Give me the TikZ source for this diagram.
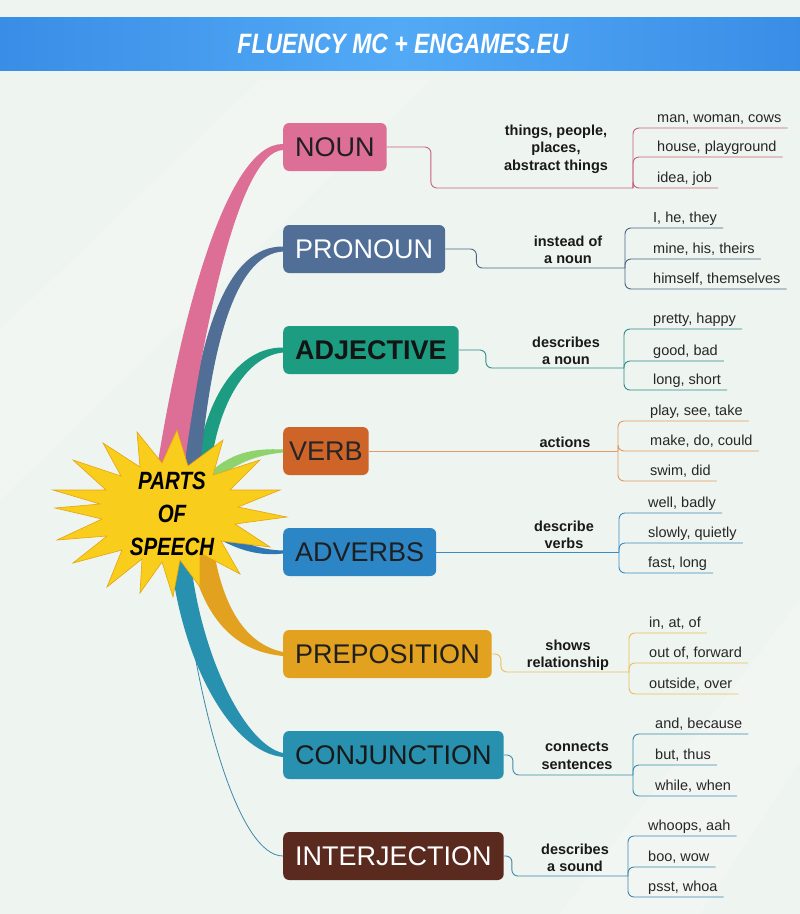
\documentclass[tikz,border=0pt]{standalone}
\usepackage{fontspec}
\setmainfont{Liberation Sans}
\newfontfamily\starfont[FakeStretch=0.82]{Liberation Sans}
\usetikzlibrary{calc}

\definecolor{bgcol}{HTML}{EEF4EF}
\definecolor{headlight}{HTML}{52AAF6}
\definecolor{headdark}{HTML}{3A8DE6}
\definecolor{staryellow}{HTML}{F9CD1B}
\definecolor{starorange}{HTML}{E6A312}
\definecolor{nouncol}{HTML}{DD6E95}
\definecolor{proncol}{HTML}{506E96}
\definecolor{adjcol}{HTML}{1C9D81}
\definecolor{verbcol}{HTML}{CF6429}
\definecolor{advcol}{HTML}{2C86C6}
\definecolor{prepcol}{HTML}{E2A11E}
\definecolor{conjcol}{HTML}{2891AF}
\definecolor{interjcol}{HTML}{5B2A1E}
\definecolor{verbrib}{HTML}{8ED36C}
\definecolor{advrib}{HTML}{2E77B5}
\definecolor{nounline}{HTML}{C8607A}
\definecolor{pronline}{HTML}{4A6585}
\definecolor{adjline}{HTML}{2E8C8A}
\definecolor{verbline}{HTML}{E39A66}
\definecolor{advline}{HTML}{3C8BC0}
\definecolor{prepline}{HTML}{EDBE5A}
\definecolor{conjline}{HTML}{3D8CAA}
\definecolor{interjline}{HTML}{3D88AA}

\begin{document}
\begin{tikzpicture}[x=1pt,y=-1pt,
	wordbox/.style={rounded corners=6pt,minimum height=48pt,inner xsep=12pt,inner ysep=0pt,
		anchor=west,font=\fontsize{27}{27}\selectfont},
	note/.style={align=center,inner sep=0pt,font=\fontsize{14.5}{17.5}\selectfont\bfseries,text=black!90},
	leaf/.style={anchor=south west,inner xsep=6pt,inner ysep=0pt,text depth=5pt,
		font=\fontsize{14.5}{17}\selectfont,text=black!85},
	link/.style={line width=0.9pt,rounded corners=6pt}]

	% background and title band
	\fill[bgcol] (0,0) rectangle (800,914);
	\fill[white,opacity=0.25] (0,330) -- (260,80) -- (430,80) -- (0,500) -- cycle;
	\fill[white,opacity=0.25] (560,914) -- (800,600) -- (800,760) -- (700,914) -- cycle;
	\shade[left color=headdark,right color=headdark,middle color=headlight] (0,17) rectangle (800,70);
	\node (title) at (403,44) {\starfont\fontsize{28}{28}\selectfont\bfseries\itshape\color{white}FLUENCY MC + ENGAMES.EU};

	% parts of speech
	\node[wordbox,fill=nouncol,text=black!88] (noun) at (283,147) {NOUN};
	\node[wordbox,fill=proncol,text=white] (pronoun) at (283,249) {PRONOUN};
	\node[wordbox,fill=adjcol,text=black!92,font=\fontsize{27}{27}\selectfont\bfseries] (adjective) at (283,350) {ADJECTIVE};
	\node[wordbox,fill=verbcol,text=black!85,inner xsep=6pt] (verb) at (283,451) {VERB};
	\node[wordbox,fill=advcol,text=black!88] (adverbs) at (283,552) {ADVERBS};
	\node[wordbox,fill=prepcol,text=black!88] (preposition) at (283,654) {PREPOSITION};
	\node[wordbox,fill=conjcol,text=black!90] (conjunction) at (283,755) {CONJUNCTION};
	\node[wordbox,fill=interjcol,text=white] (interjection) at (283,856) {INTERJECTION};

	% branches from the star
	\draw[interjline,line width=0.8pt] (182,570) .. controls (200,720) and (240,856) .. (interjection.west);
	\fill[conjcol] (170,555) .. controls (182,665) and (232,752) .. ([yshift=-2pt]conjunction.west)
		-- ([yshift=2pt]conjunction.west) .. controls (245,745) and (200,655) .. (190,555) -- cycle;
	\fill[prepcol] (190,555) .. controls (205,625) and (240,652) .. ([yshift=-2pt]preposition.west)
		-- ([yshift=2pt]preposition.west) .. controls (250,645) and (225,615) .. (214,552) -- cycle;
	\fill[advrib] (218,528) .. controls (243,544) and (262,550) .. ([yshift=1.5pt]adverbs.west)
		-- ([yshift=-1.5pt]adverbs.west) .. controls (262,556) and (240,552) .. (214,536) -- cycle;
	\fill[verbrib] (205,478) .. controls (228,452) and (255,448) .. ([yshift=1.5pt]verb.west)
		-- ([yshift=-1.5pt]verb.west) .. controls (258,455) and (235,462) .. (212,484) -- cycle;
	\fill[adjcol] (196,470) .. controls (205,395) and (240,347) .. ([yshift=2.5pt]adjective.west)
		-- ([yshift=-2.5pt]adjective.west) .. controls (248,356) and (218,400) .. (210,472) -- cycle;
	\fill[proncol] (184,470) .. controls (198,330) and (228,246) .. ([yshift=2.5pt]pronoun.west)
		-- ([yshift=-2.5pt]pronoun.west) .. controls (238,254) and (212,335) .. (200,470) -- cycle;
	\fill[nouncol] (156,475) .. controls (178,330) and (225,143) .. ([yshift=3pt]noun.west)
		-- ([yshift=-3pt]noun.west) .. controls (238,152) and (202,335) .. (183,475) -- cycle;

	% the star
	\begin{scope}[shift={(170,512)}]
		\filldraw[fill=staryellow,draw=starorange,line width=0.6pt] plot coordinates {
			(-117,-22) (-64,-22) (-97,-52) (-49,-36) (-67,-69) (-30,-45) (-33,-80) (-8,-49)
			(7,-82) (18,-46) (53,-72) (43,-37) (90,-52) (60,-22) (110,-22) (68,-5)
			(117,5) (65,12) (100,35) (51,29) (70,62) (30,41) (30,75) (10,48)
			(3,85) (-8,50) (-30,81) (-28,47) (-63,75) (-48,38) (-97,51) (-63,24)
			(-113,28) (-68,7) (-115,-4) (-70,-8)} -- cycle;
	\end{scope}
	\node[align=center,inner sep=0pt,font=\starfont\fontsize{25}{33}\selectfont\bfseries\itshape] (speech) at (172,514)
		{PARTS\\OF\\SPEECH};

	% noun
	\coordinate (nj) at (633,188);
	\node[note] (nnote) at (556,149) {things, people,\\places,\\abstract things};
	\node[leaf] (n1) at (651,128) {man, woman, cows};
	\node[leaf] (n2) at (651,157) {house, playground};
	\node[leaf] (n3) at (651,188) {idea, job};
	\draw[link,nounline] (noun.east) -- ++(44,0) |- (nj);
	\foreach \l in {n1,n2,n3} \draw[link,nounline] (nj) |- (\l.south west) -- (\l.south east);

	% pronoun
	\coordinate (pj) at (625,268);
	\node[note] (pnote) at (568,250) {instead of\\a noun};
	\node[leaf] (p1) at (647,228) {I, he, they};
	\node[leaf] (p2) at (647,259) {mine, his, theirs};
	\node[leaf] (p3) at (647,289) {himself, themselves};
	\draw[link,pronline] (pronoun.east) -- ++(31,0) |- (pj);
	\foreach \l in {p1,p2,p3} \draw[link,pronline] (pj) |- (\l.south west) -- (\l.south east);

	% adjective
	\coordinate (aj) at (624,368);
	\node[note] (anote) at (566,351) {describes\\a noun};
	\node[leaf] (a1) at (647,329) {pretty, happy};
	\node[leaf] (a2) at (647,361) {good, bad};
	\node[leaf] (a3) at (647,390) {long, short};
	\draw[link,adjline] (adjective.east) -- ++(27,0) |- (aj);
	\foreach \l in {a1,a2,a3} \draw[link,adjline] (aj) |- (\l.south west) -- (\l.south east);

	% verb
	\coordinate (vj) at (618,451);
	\node[note] (vnote) at (565,442) {actions};
	\node[leaf] (v1) at (644,421) {play, see, take};
	\node[leaf] (v2) at (644,451) {make, do, could};
	\node[leaf] (v3) at (644,481) {swim, did};
	\draw[link,verbline] (verb.east) -- (vj);
	\foreach \l in {v1,v2,v3} \draw[link,verbline] (vj) |- (\l.south west) -- (\l.south east);

	% adverbs
	\coordinate (dj) at (619,552);
	\node[note] (dnote) at (564,535) {describe\\verbs};
	\node[leaf] (d1) at (642,513) {well, badly};
	\node[leaf] (d2) at (642,543) {slowly, quietly};
	\node[leaf] (d3) at (642,573) {fast, long};
	\draw[link,advline] (adverbs.east) -- (dj);
	\foreach \l in {d1,d2,d3} \draw[link,advline] (dj) |- (\l.south west) -- (\l.south east);

	% preposition
	\coordinate (rj) at (629,672);
	\node[note] (rnote) at (568,655) {shows\\relationship};
	\node[leaf] (r1) at (643,633) {in, at, of};
	\node[leaf] (r2) at (643,663) {out of, forward};
	\node[leaf] (r3) at (643,694) {outside, over};
	\draw[link,prepline] (preposition.east) -- ++(9,0) |- (rj);
	\foreach \l in {r1,r2,r3} \draw[link,prepline] (rj) |- (\l.south west) -- (\l.south east);

	% conjunction
	\coordinate (cj) at (633,775);
	\node[note] (cnote) at (577,756) {connects\\sentences};
	\node[leaf] (c1) at (649,734) {and, because};
	\node[leaf] (c2) at (649,765) {but, thus};
	\node[leaf] (c3) at (649,796) {while, when};
	\draw[link,conjline] (conjunction.east) -- ++(9,0) |- (cj);
	\foreach \l in {c1,c2,c3} \draw[link,conjline] (cj) |- (\l.south west) -- (\l.south east);

	% interjection
	\coordinate (ij) at (628,876);
	\node[note] (inote) at (575,858) {describes\\a sound};
	\node[leaf] (i1) at (642,836) {whoops, aah};
	\node[leaf] (i2) at (642,867) {boo, wow};
	\node[leaf] (i3) at (642,897) {psst, whoa};
	\draw[link,interjline] (interjection.east) -- ++(8,0) |- (ij);
	\foreach \l in {i1,i2,i3} \draw[link,interjline] (ij) |- (\l.south west) -- (\l.south east);
\end{tikzpicture}
\end{document}
